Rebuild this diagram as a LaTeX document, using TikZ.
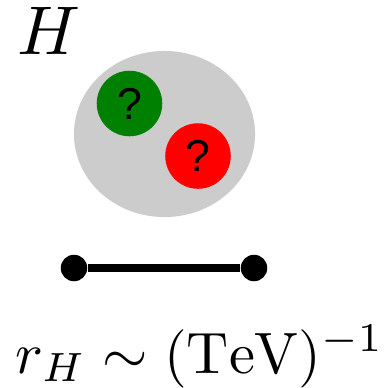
\documentclass[tikz,border=0pt]{standalone}
\usepackage{graphicx}
\usepackage{fontspec}
\usetikzlibrary{shapes.geometric}
\newfontfamily\qfont{Liberation Sans}
\definecolor{Blob}{HTML}{CCCCCC}
\definecolor{QuarkG}{HTML}{008000}
\definecolor{QuarkR}{HTML}{FF0000}

\begin{document}
\begin{tikzpicture}[
  x=0.01cm,
  y=-0.01cm,
  blob/.style={
    ellipse,
    fill=Blob,
    minimum width=1.81cm,
    minimum height=1.66cm,
    inner sep=0pt
  },
  quark/.style={
    circle,
    minimum size=0.655cm,
    inner sep=0pt,
    text=black,
    font=\qfont\fontsize{12.7}{14}\selectfont
  },
  endpoint/.style={
    circle,
    fill=black,
    minimum size=0.265cm,
    inner sep=0pt
  },
  bar/.style={
    line width=0.077cm,
    draw=black
  }
]

\useasboundingbox (0,0) rectangle (391,387);

\node[anchor=base west, inner sep=0pt] (hlabel) at (17,54) {\scalebox{1.96}{\(H\)}};

\node[blob] (higgs) at (164.5,134) {};
\node[quark, fill=QuarkG] (q1) at (129.5,103.5) {?};
\node[quark, fill=QuarkR] (q2) at (198,156) {?};

\node[endpoint] (left) at (74,268) {};
\node[endpoint] (right) at (254,268) {};
\draw[bar] (left) -- (right);

\node[anchor=base west, inner sep=0pt] (radius) at (15,373)
  {\scalebox{1.66}{\(r_H \sim (\mathrm{TeV})^{-1}\)}};

\end{tikzpicture}
\end{document}
